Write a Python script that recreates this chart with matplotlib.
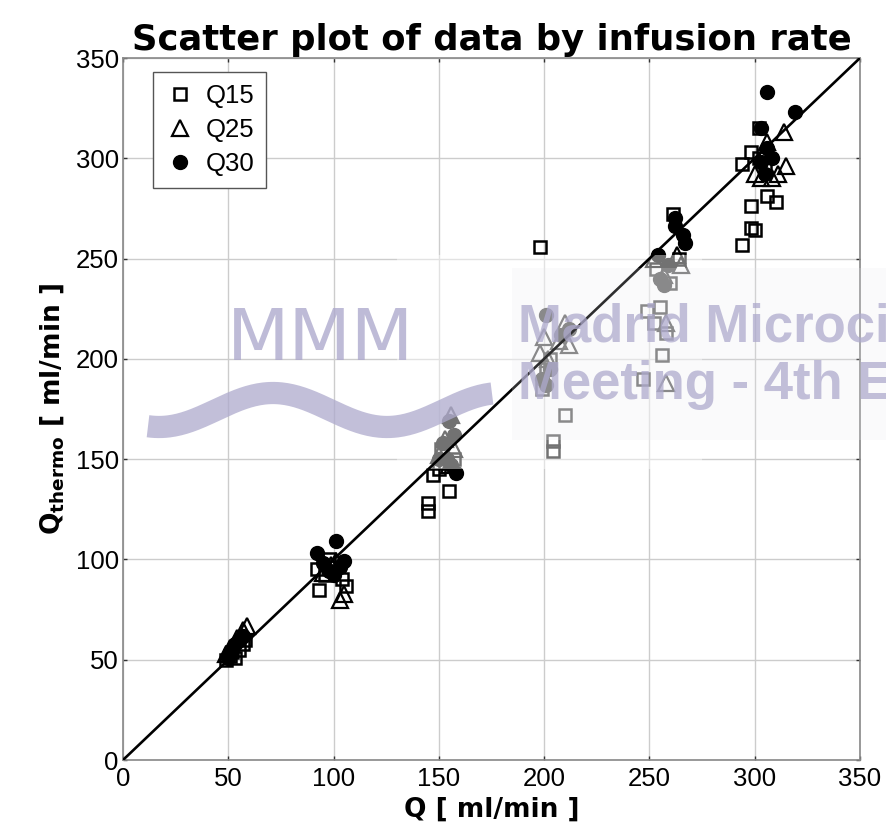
import numpy as np
import matplotlib
matplotlib.use("Agg")
import matplotlib.pyplot as plt
from matplotlib.patches import Rectangle
from matplotlib.lines import Line2D

# ---------------- data ----------------
q15_x = [49, 51, 53, 55, 57, 58, 52,
         93, 92, 96, 100, 104, 106, 98,
         145, 145, 155, 147, 150, 153, 157, 151,
         198, 204, 204, 210, 199, 201, 203,
         261, 249, 255, 252, 258, 256, 247, 260, 253, 264,
         302, 298, 294, 306, 310, 298, 298, 300, 294, 302, 305]
q15_y = [50, 52, 51, 55, 58, 60, 54,
         85, 95, 92, 96, 90, 87, 100,
         128, 124, 134, 142, 145, 148, 150, 155,
         256, 159, 154, 172, 185, 195, 200,
         272, 224, 226, 218, 213, 202, 190, 238, 245, 250,
         315, 303, 297, 281, 278, 276, 265, 264, 257, 300, 295]

q25_x = [59, 57, 54, 51, 49,
         103, 105, 95, 99, 101,
         156, 153, 150, 157, 155,
         200, 210, 212, 207, 198, 202,
         258, 258, 265, 263, 257, 252,
         314, 306, 315, 303, 308, 311, 300, 305]
q25_y = [67, 65, 61, 56, 53,
         80, 83, 93, 97, 99,
         172, 160, 152, 155, 147,
         211, 218, 207, 209, 203, 200,
         188, 218, 247, 252, 242, 250,
         313, 308, 296, 290, 290, 292, 292, 303]

q30_x = [53, 55, 51, 57, 50,
         101, 92, 95, 98, 105, 100, 103,
         155, 158, 152, 154, 156, 150, 157,
         201, 212, 199, 201, 203, 208,
         262, 266, 267, 262, 255, 257, 254, 259,
         306, 319, 303, 306, 303, 308, 305]
q30_y = [58, 60, 54, 62, 51,
         109, 103, 98, 94, 99, 92, 96,
         169, 143, 158, 150, 147, 150, 162,
         222, 215, 190, 187, 195, 212,
         266, 262, 258, 270, 240, 237, 252, 247,
         333, 323, 315, 305, 298, 300, 292]

series_labels = ["Q15", "Q25", "Q30"]
x_ticks = [0, 50, 100, 150, 200, 250, 300, 350]
y_ticks = [0, 50, 100, 150, 200, 250, 300, 350]
title_text = "Scatter plot of data by infusion rate"
xlabel_text = "Q [ ml/min ]"
ylabel_text = r"$\mathbf{Q_{thermo}}$ [ ml/min ]"

# ---------------- figure ----------------
W, H = 887, 833
fig = plt.figure(figsize=(W / 100, H / 100), dpi=100)
ax = fig.add_axes([123 / W, 1 - 760 / H, (860 - 123) / W, (760 - 58) / H])

tick_font = ["Liberation Sans Narrow", "Liberation Sans", "DejaVu Sans"]

ax.set_xlim(0, 350)
ax.set_ylim(0, 350)
ax.set_xticks(x_ticks)
ax.set_yticks(y_ticks)
ax.grid(True, color="#cccccc", lw=1.0, zorder=0)
ax.set_axisbelow(True)
ax.tick_params(direction="in", length=3, width=1, color="#333333",
               labelsize=18.5, pad=2, top=True, right=True)
ax.tick_params(axis="x", pad=5)
ax.tick_params(axis="y", pad=3)
for lab in ax.get_xticklabels() + ax.get_yticklabels():
    lab.set_family(tick_font)
for s in ax.spines.values():
    s.set_color("#888888")
    s.set_linewidth(1.2)

# identity line
ax.plot([0, 350], [0, 350], color="black", lw=1.9, zorder=4)

ms = 9
ax.plot(q15_x, q15_y, ls="none", marker="s", ms=ms, mfc="none", mec="black",
        mew=1.8, zorder=2, label=series_labels[0])
ax.plot(q25_x, q25_y, ls="none", marker="^", ms=ms + 2, mfc="none", mec="black",
        mew=1.6, zorder=2, label=series_labels[1])
ax.plot(q30_x, q30_y, ls="none", marker="o", ms=ms + 1, mfc="black", mec="black",
        mew=1, zorder=2, label=series_labels[2])

# faded overlay region (from the watermark image)
ax.add_patch(Rectangle((130, 145), 145, 107, facecolor="white", alpha=0.45,
                       edgecolor="none", zorder=3))

leg = ax.legend(loc="upper left", bbox_to_anchor=(0.041, 0.98),
                borderaxespad=0, frameon=True,
                fancybox=False, edgecolor="#555555", framealpha=1,
                prop={"family": tick_font, "size": 18.5},
                handletextpad=0.4, borderpad=0.45, labelspacing=0.4,
                handlelength=1.2)
leg.get_frame().set_linewidth(1.0)
leg.set_zorder(6)

ax.set_title(title_text, fontsize=25.5, fontweight="bold", pad=6,
             family="DejaVu Sans")
ax.set_xlabel(xlabel_text, fontsize=19, fontweight="bold", labelpad=4,
              family="DejaVu Sans")
ax.set_ylabel(ylabel_text, fontsize=19, fontweight="bold", labelpad=7,
              family="DejaVu Sans")

# ---------------- watermark ----------------
wm = "#aeaacd"
fig.add_artist(Rectangle((512 / W, 1 - 440 / H), (W - 512) / W, 172 / H,
                         transform=fig.transFigure, facecolor="#e8e8ee",
                         alpha=0.2, edgecolor="none", zorder=9))
fig.text(320 / W, 1 - 340 / H, "MMM", fontsize=52, color=wm, alpha=0.8,
         ha="center", va="center", family="DejaVu Sans", zorder=10)
xs = np.linspace(148, 492, 200)
ys = 410 - 17 * np.sin(2 * np.pi * (xs - 216) / 228)
fig.add_artist(Line2D(xs / W, 1 - ys / H, transform=fig.transFigure,
                      color=wm, lw=16, alpha=0.75, solid_capstyle="butt",
                      zorder=10))
wm_font = ["Liberation Sans", "DejaVu Sans"]
fig.text(518 / W, 1 - 327 / H, "Madrid Microcirculation", fontsize=38,
         fontweight="bold", color=wm, alpha=0.75, ha="left", va="center",
         family=wm_font, zorder=10)
fig.text(518 / W, 1 - 385 / H, "Meeting - 4th Edition", fontsize=38,
         fontweight="bold", color=wm, alpha=0.75, ha="left", va="center",
         family=wm_font, zorder=10)

fig.savefig("out.png", dpi=100)
